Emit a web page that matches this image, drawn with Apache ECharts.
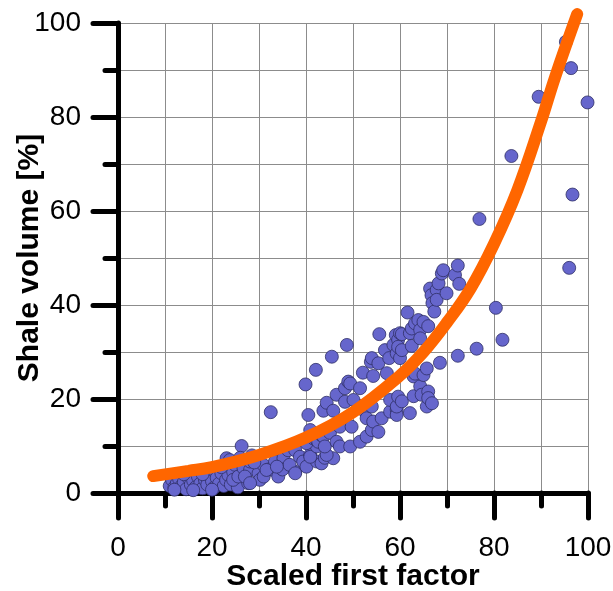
<!DOCTYPE html>
<html>
<head>
    <meta charset="utf-8">
    <title></title>
    <script src="https://cdn.jsdelivr.net/npm/echarts@6/dist/echarts.min.js"></script>
    <style>
        html, body { margin: 0; padding: 0; background: #fff; }
        #main { width: 613px; height: 591px; }
    </style>
</head>
<body>
<div id="main"></div>
<script type="text/javascript">
    // measured points [scaled first factor, shale volume %]
    var shalePoints = [
        [11,1.5],[11.5,2.8],[12,1.2],[12.5,2],[13,3],[13.5,1.5],[14,2.3],[14.5,0.8],[15,3.2],[15.5,1.8],
        [16,2.6],[16.5,1.2],[17,3.5],[17.5,2],[18,1],[18.5,2.8],[19,1.8],[19.5,3.8],[20,2.5],[20.5,1.2],
        [21,3.2],[21.5,2],[22,4.2],[22.5,1.5],[23,2.8],[23.5,3.8],[24,1.8],[24.5,4.5],[25,2.5],[25.5,1.2],
        [12,0.7],[16,0.6],[20,0.7],[18,4],[14,4],
        [23.1,7.4],[23.8,7],[24.5,2.8],[24.9,6],[25.6,3.5],[26.3,10],[26.7,5.3],[27.7,2.1],[28.1,4.9],[28.1,6.7],
        [29.9,4.2],[30.2,2.8],[30.9,6],[32,5],[33,4.9],[33.4,6.7],[34.1,3.5],[35.2,7.4],[36.2,9.1],[37.7,4.5],
        [37.7,9.1],[38.7,7.7],[39.4,6.7],[40.1,5.6],[40.9,8.1],[42.3,6.7],[43.3,6.3],[32.5,17.2],[27,3.5],[29,6.5],
        [31,3.5],[35,5],[36.5,6],[44,7.5],[45.8,7.4],[22,5.5],[26,7.5],[28.5,8],[28.1,2.1],[31.6,4.9],
        [33.8,5.6],[37.7,4.2],[40.9,7.7],[42.3,9.9],[44.4,8.1],
        [39.9,23.1],[40.5,16.6],[40.9,13.4],[40.1,10.6],[41.6,11.6],[42.1,26.2],[42.3,11.3],[42.6,10.9],[43.3,12.3],[43.7,12],
        [43.7,17.5],[44,9.9],[44.4,19.2],[45.1,12.8],[45.5,29],[45.8,17.5],[46.5,20.9],[46.5,14.8],[46.5,10.9],[47.2,14.1],
        [47.2,9.9],[48.3,22.3],[48.3,19.4],[48.7,31.5],[49,23.7],[49.4,23.3],[49.4,9.9],[49.7,14.1],[50.1,19.8],[51.5,22.3],
        [51.5,10.9],[52.1,25.6],[52.2,17.7],[52.9,15.9],[52.9,12],[53.8,27.9],[54,28.7],[54,18.4],[54,13.4],[54.3,24.9],
        [54.3,15.2],[55.4,27.6],[55.4,13],[55.6,33.8],[56.1,15.9],[56.8,30.4],[57.2,25.5],[57.7,28.7],[57.9,17.3],[57.9,19.8],
        [58.6,31.5],[59.1,33.6],[59.3,29.7],[59.3,17.7],[59.3,16.6],[59.3,18.4],[59.6,20.5],[59.6,32.6],[59.6,31.1],[60,34],
        [60,28.7],[60.4,30.4],[60.4,19.5],[60.4,33.8],[61.6,38.4],[62.1,34],[62.1,17],[62.5,35],[62.5,31.3],[62.9,24.8],
        [62.9,20.6],[63.2,36.1],[63.2,25.4],[63.9,36.8],[64.3,34.7],[64.3,32.9],[64.3,22.7],[64.6,20.9],[65,36.4],[65,25.1],
        [65.7,26.5],[65.7,18.4],[66,35.5],[66,21.6],[66,20.2],[66.4,43.5],[66.7,42.1],[66.8,19.1],[66.9,40.4],[67.3,38.6],
        [67.8,43.2],[67.8,41.1],[68.2,44.6],[68.5,27.7],[68.9,46.7],[69.2,47.4],[69.9,42.5],[71.7,46.4],[72.3,48.4],[72.3,29.2],
        [72.6,44.5],[76.3,30.7],[76.9,58.3],[80.4,39.4],[81.8,32.6],[83.7,71.7],[89.5,84.3],[95.3,96],[96.4,90.4],[99.9,83.1],
        [96.7,63.5],[96,47.9]
    ];

    // fitted trend
    var curveX = [7.5, 15, 20, 30, 40, 50, 60, 65, 70, 75, 80, 85, 90, 93, 97.7];
    var curveY = [3.6, 4.7, 5.5, 8.1, 11.8, 17.2, 25, 30, 36.3, 43.5, 53, 64.5, 79, 88.5, 101.9];

    var xTicks = [0, 20, 40, 60, 80, 100];
    var yTicks = [0, 20, 40, 60, 80, 100];

    var curveData = curveX.map(function (x, i) { return [x, curveY[i]]; });

    var chart = echarts.init(document.getElementById('main'));

    var axisCommon = {
        type: 'value',
        min: xTicks[0],
        max: xTicks[xTicks.length - 1],
        interval: 20,
        nameLocation: 'middle',
        nameMoveOverlap: false,
        nameTextStyle: {
            fontFamily: 'Liberation Sans, Arial, sans-serif',
            fontWeight: 'bold',
            fontSize: 30,
            color: '#000'
        },
        axisLine: { show: true, lineStyle: { color: '#000', width: 5, cap: 'round' } },
        axisTick: { show: true, length: 25, lineStyle: { color: '#000', width: 5, cap: 'round' } },
        minorTick: { show: true, splitNumber: 2, length: 13, lineStyle: { color: '#000', width: 5, cap: 'round' } },
        splitLine: { show: true, lineStyle: { color: '#8c8c8c', width: 1 } },
        minorSplitLine: { show: true, lineStyle: { color: '#8c8c8c', width: 1 } },
        axisLabel: {
            fontFamily: 'Liberation Sans, Arial, sans-serif',
            fontSize: 28,
            color: '#000'
        }
    };

    var option = {
        animation: false,
        backgroundColor: '#fff',
        grid: { left: 118, top: 23, width: 470, height: 470, containLabel: false, outerBoundsMode: 'none' },
        xAxis: echarts.util.merge({
            name: 'Scaled first factor',
            nameGap: 69,
            axisLabel: { margin: 41 }
        }, axisCommon),
        yAxis: echarts.util.merge({
            name: 'Shale volume [%]',
            nameGap: 73,
            axisLabel: { margin: 37 }
        }, axisCommon),
        series: [
            {
                type: 'scatter',
                data: shalePoints,
                symbolSize: 13,
                itemStyle: { color: '#6666cc', borderColor: '#2f2f66', borderWidth: 0.8, opacity: 1 },
                z: 2
            },
            {
                type: 'line',
                data: curveData,
                smooth: 0.4,
                showSymbol: false,
                clip: false,
                lineStyle: { color: '#ff6600', width: 12, cap: 'round' },
                z: 3
            }
        ]
    };
    chart.setOption(option);
    window.onresize = function () {
        chart.resize();
    };
</script>
</body>
</html>
